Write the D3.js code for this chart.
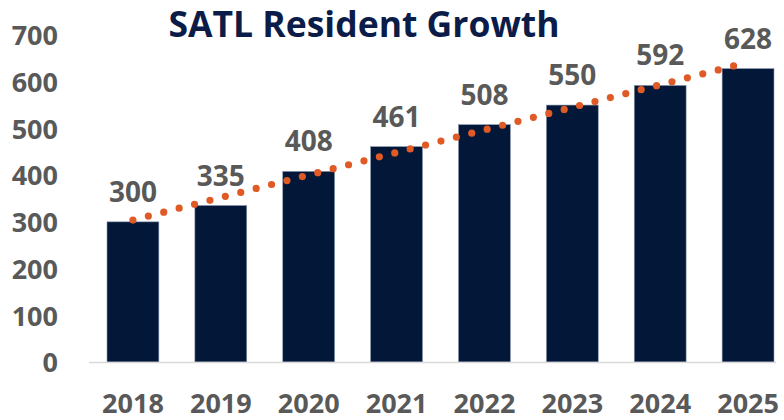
<!DOCTYPE html>
<html><head><meta charset="utf-8">
<script src="https://cdn.jsdelivr.net/npm/d3@7"></script>
<style>body{margin:0;background:#fff}svg{display:block}</style>
</head><body>
<svg id="c" width="784" height="420"></svg>
<script>
const years = ["2018","2019","2020","2021","2022","2023","2024","2025"];
const residents = [300,335,408,461,508,550,592,628];
const yTicks = [0,100,200,300,400,500,600,700];
const title = "SATL Resident Growth";

const svg = d3.select("#c");
const font = "'Open Sans', 'Noto Sans', sans-serif";
const gray = "#595959";
const navy = "#031839";

const x = d3.scaleBand().domain(years).range([89, 792]).paddingInner(0.41).paddingOuter(0.205);
const y = d3.scaleLinear().domain([0,700]).range([362, 35]);

// title
svg.append("text").attr("x", 364).attr("y", 37).attr("text-anchor","middle")
  .attr("font-family", font).attr("font-weight", 700).attr("font-size", 35.5)
  .attr("fill", "#0b1c48").text(title);

// y axis labels
const yAxis = d3.axisLeft(y).tickValues(yTicks).tickSize(0).tickPadding(0);
const gy = svg.append("g").attr("transform","translate(58,0)").call(yAxis);
gy.select(".domain").remove();
gy.selectAll("text").attr("font-family", font).attr("font-weight",700).attr("font-size",27)
  .attr("fill", gray).attr("dy","0.36em");

// bars
svg.append("g").selectAll("rect").data(years).join("rect")
  .attr("x", d => x(d)).attr("width", x.bandwidth())
  .attr("y", (d,i) => y(residents[i])).attr("height", (d,i) => y(0) - y(residents[i]))
  .attr("fill", navy).attr("stroke", "#8593aa").attr("stroke-width", 0.6);

// x axis baseline
svg.append("line").attr("x1", 89).attr("x2", 776).attr("y1", y(0)+0.5).attr("y2", y(0)+0.5)
  .attr("stroke", "#d9d9d9").attr("stroke-width", 1.5);

// x labels
const xAxis = d3.axisBottom(x).tickSize(0).tickPadding(0);
const gx = svg.append("g").attr("transform","translate(0,413)").call(xAxis);
gx.select(".domain").remove();
gx.selectAll("text").attr("font-family", font).attr("font-weight",700).attr("font-size",27)
  .attr("fill", gray).attr("dy","0");

// data labels
svg.append("g").selectAll("text").data(years).join("text")
  .attr("x", d => x(d) + x.bandwidth()/2).attr("y", (d,i) => y(residents[i]) - 20)
  .attr("text-anchor","middle").attr("font-family", font).attr("font-weight",700)
  .attr("font-size",28).attr("fill", gray).text((d,i) => residents[i]);

// linear trendline (least squares fit of the data)
const n = residents.length;
const mx = (n-1)/2, my = d3.mean(residents);
let sxy = 0, sxx = 0;
residents.forEach((v,i) => { sxy += (i-mx)*(v-my); sxx += (i-mx)*(i-mx); });
const slope = sxy/sxx, icpt = my - slope*mx;
const cx = i => x(years[i]) + x.bandwidth()/2;
svg.append("line")
  .attr("x1", cx(0)).attr("y1", y(icpt))
  .attr("x2", cx(n-1)).attr("y2", y(icpt + slope*(n-1)))
  .attr("stroke", "#e05a26").attr("stroke-width", 7.2).attr("stroke-linecap","round")
  .attr("stroke-dasharray", "0 15.9");
</script>
</body></html>
